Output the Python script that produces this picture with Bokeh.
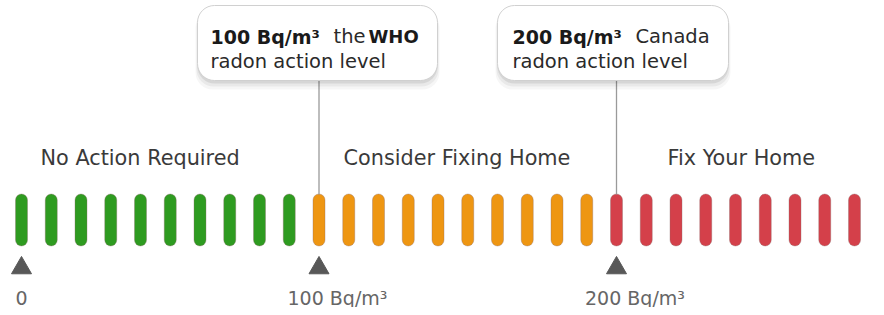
from bokeh.plotting import figure
from bokeh.models import Range1d, ColumnDataSource
from bokeh.core.properties import value
from bokeh.embed import file_html
from bokeh.resources import INLINE

# ---- data ----
levels = list(range(0, 300, 10))            # Bq/m3 steps drawn as bars
categories = ["No Action Required", "Consider Fixing Home", "Fix Your Home"]
category_starts = [0, 100, 200]
category_colors = ["#2e9b20", "#ee9612", "#d4404a"]
tick_values = [0, 100, 200]
tick_labels = ["0", "100 Bq/m³", "200 Bq/m³"]
callout_values = [100, 200]
callout_bold1 = ["100 Bq/m³", "200 Bq/m³"]
callout_rest1 = ["the", "Canada"]
callout_bold2 = ["WHO", ""]
callout_line2 = ["radon action level", "radon action level"]

# ---- layout (screen px) ----
W, H = 876, 307
px_per_unit = 29.75 / 10.0
x0 = -21 / px_per_unit
x1 = x0 + W / px_per_unit

def col_for(v):
    idx = 0
    for i, s in enumerate(category_starts):
        if v >= s:
            idx = i
    return category_colors[idx]

p = figure(width=W, height=H, output_backend="svg", toolbar_location=None,
           x_range=Range1d(x0, x1), y_range=Range1d(H, 0),
           min_border=0, outline_line_color=None)
p.axis.visible = False
p.grid.visible = False
p.background_fill_color = "white"
p.border_fill_color = "white"

FONT = value("DejaVu Sans")

# bars
bars = ColumnDataSource(dict(x=levels, c=[col_for(v) for v in levels]))
p.vbar(x="x", width=12 / px_per_unit, top=193.5, bottom=245.5, source=bars,
       fill_color="c", line_color="#8a6a6a", line_alpha=0.35, line_width=1,
       border_radius=6)

# connectors
p.segment(x0=callout_values, x1=callout_values, y0=80, y1=194,
          line_color="#9a9a9a", line_width=1.3)

# triangles
p.scatter(x=tick_values, y=267.5, marker="triangle", size=20,
          fill_color="#585858", line_color="#585858")

# tick labels
tick_offsets = [-6 if t == 0 else -31.5 for t in tick_values]
p.text(x=tick_values, y=297, text=tick_labels, x_offset=tick_offsets,
       text_font=FONT, text_font_size="19px", text_color="#666666",
       text_baseline="alphabetic", text_align="left")

# category labels
cat_offsets_px = [19, 24.5, 51]
p.text(x=category_starts, y=157, text=categories, x_offset=cat_offsets_px,
       text_font=FONT, text_font_size="20.8px", text_color="#3a3a3a",
       text_baseline="alphabetic", text_align="left")

# callout boxes (soft shadow + box)
box_w = [240, 231]
box_dx = [-1.5, -3.5]
box_cx = [v + d / px_per_unit for v, d in zip(callout_values, box_dx)]
box_cy, box_h = 42.5, 75
for dy, a, grow in [(7, 0.035, 4), (5, 0.05, 2), (3, 0.08, 0)]:
    p.rect(x=box_cx, y=box_cy + dy, width=[w + grow for w in box_w], height=box_h + grow,
           width_units="screen", height_units="screen",
           fill_color="#000000", fill_alpha=a, line_color=None, border_radius=17)
p.rect(x=box_cx, y=box_cy, width=box_w, height=box_h,
       width_units="screen", height_units="screen",
       fill_color="white", line_color="#d0d0d0", line_width=1, border_radius=17)

# callout texts
line1_start = [-108.5, -104]
rest_start = [14.5, 19]
bold2_start = [49.5, 0]
p.text(x=callout_values, y=36, text=callout_bold1, x_offset=line1_start,
       text_font=FONT, text_font_style="bold", text_font_size="19px",
       text_color="#1a1a1a", text_baseline="alphabetic", text_align="left")
p.text(x=callout_values, y=36, text=callout_rest1, x_offset=rest_start,
       text_font=FONT, text_font_size="19.5px",
       text_color="#2a2a2a", text_baseline="alphabetic", text_align="left")
p.text(x=callout_values, y=36, text=callout_bold2, x_offset=bold2_start,
       text_font=FONT, text_font_style="bold", text_font_size="18px",
       text_color="#1a1a1a", text_baseline="alphabetic", text_align="left")
p.text(x=callout_values, y=61, text=callout_line2, x_offset=line1_start,
       text_font=FONT, text_font_size="19.5px",
       text_color="#2a2a2a", text_baseline="alphabetic", text_align="left")

open("out.html", "w").write(file_html(p, INLINE))
